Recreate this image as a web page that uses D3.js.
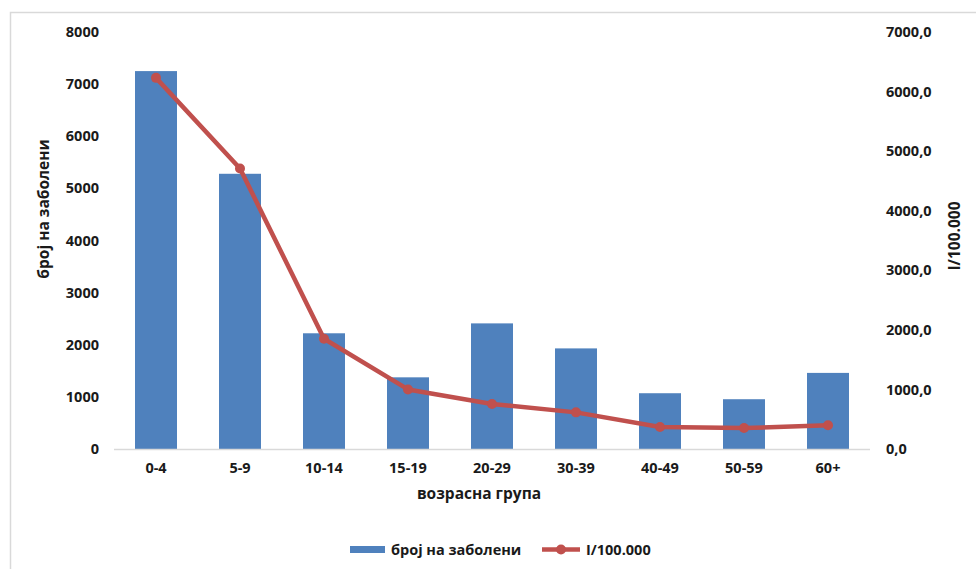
<!DOCTYPE html>
<html><head><meta charset="utf-8">
<script src="https://cdn.jsdelivr.net/npm/d3@7"></script>
<style>body{margin:0;background:#fff;} text{font-family:"Open Sans",Calibri,sans-serif;font-weight:700;fill:#1a1a1a;}</style>
</head><body>
<svg id="c" width="976" height="569"></svg>
<script>
const categories = ["0-4","5-9","10-14","15-19","20-29","30-39","40-49","50-59","60+"];
const cases = [7250,5280,2220,1375,2410,1930,1070,955,1460];
const rate = [6230,4710,1850,1000,755,615,370,352,398];
const leftTicks = [0,1000,2000,3000,4000,5000,6000,7000,8000];
const rightTicks = [0,1000,2000,3000,4000,5000,6000,7000];

const svg = d3.select("#c");
svg.append("rect").attr("x",10.5).attr("y",12.5).attr("width",1000).attr("height",600)
  .attr("fill","none").attr("stroke","#d9d9d9").attr("stroke-width",1.5);

const L=114,R=870,T=32,B=449;
const x = d3.scaleBand().domain(categories).range([L,R]).paddingInner(0.5).paddingOuter(0.25);
const yL = d3.scaleLinear().domain([0,8000]).range([B,T]);
const yR = d3.scaleLinear().domain([0,7000]).range([B,T]);

svg.selectAll("rect.bar").data(cases).enter().append("rect").attr("class","bar")
  .attr("x",(d,i)=>x(categories[i])).attr("width",x.bandwidth())
  .attr("y",d=>yL(d)).attr("height",d=>B-yL(d)).attr("fill","#4F81BD");

svg.append("line").attr("x1",L).attr("x2",R).attr("y1",B+0.5).attr("y2",B+0.5)
  .attr("stroke","#d9d9d9").attr("stroke-width",1.5);

const cx = i => x(categories[i])+x.bandwidth()/2;
const line = d3.line().x((d,i)=>cx(i)).y(d=>yR(d));
svg.append("path").datum(rate).attr("d",line).attr("fill","none")
  .attr("stroke","#C0504D").attr("stroke-width",4.5).attr("stroke-linejoin","round");
svg.selectAll("circle.pt").data(rate).enter().append("circle").attr("class","pt")
  .attr("cx",(d,i)=>cx(i)).attr("cy",d=>yR(d)).attr("r",5).attr("fill","#C0504D");

const fs = 14.5;
svg.selectAll("text.lt").data(leftTicks).enter().append("text").attr("class","lt")
  .attr("x",99).attr("y",d=>yL(d)).attr("dy","0.35em").attr("text-anchor","end")
  .attr("font-size",fs).text(d=>d);
const fmtR = d=> d.toFixed(1).replace(".",",");
svg.selectAll("text.rt").data(rightTicks).enter().append("text").attr("class","rt")
  .attr("x",886).attr("y",d=>yR(d)).attr("dy","0.35em").attr("text-anchor","start")
  .attr("font-size",fs).text(fmtR);
svg.selectAll("text.xt").data(categories).enter().append("text").attr("class","xt")
  .attr("x",(d,i)=>cx(i)).attr("y",473).attr("text-anchor","middle")
  .attr("font-size",fs).text(d=>d);

svg.append("text").attr("transform","translate(49,209) rotate(-90)")
  .attr("text-anchor","middle").attr("font-size",15.5).text("број на заболени");
svg.append("text").attr("transform","translate(960,236) rotate(-90)")
  .attr("text-anchor","middle").attr("font-size",15.5).text("I/100.000");
svg.append("text").attr("x",479).attr("y",499).attr("text-anchor","middle")
  .attr("font-size",15.5).text("возрасна група");

svg.append("rect").attr("x",350).attr("y",546).attr("width",35).attr("height",7).attr("fill","#4F81BD");
svg.append("text").attr("x",391).attr("y",550).attr("dy","0.35em").attr("font-size",fs).text("број на заболени");
svg.append("line").attr("x1",542).attr("x2",580).attr("y1",549.5).attr("y2",549.5)
  .attr("stroke","#C0504D").attr("stroke-width",4.5);
svg.append("circle").attr("cx",561).attr("cy",549.5).attr("r",5).attr("fill","#C0504D");
svg.append("text").attr("x",586).attr("y",550).attr("dy","0.35em").attr("font-size",fs).text("I/100.000");
</script>
</body></html>
